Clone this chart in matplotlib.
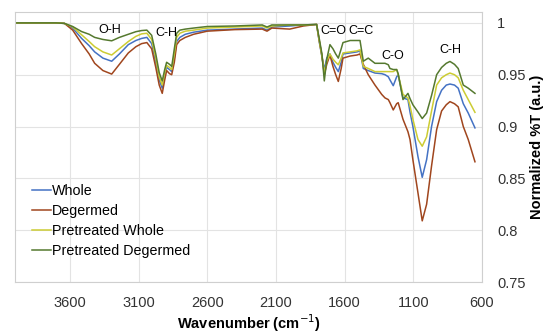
import matplotlib
matplotlib.use("Agg")
from matplotlib import pyplot as plt

plt.rcParams['font.family'] = ['Liberation Sans', 'DejaVu Sans']

# wavenumber grid (cm-1)
wavenumber = [4000, 3700, 3640, 3580, 3515, 3460, 3420, 3360, 3296, 3240,
              3175, 3120, 3078, 3040, 3005, 2975, 2950, 2928, 2910, 2896,
              2875, 2859, 2840, 2823, 2800, 2760, 2700, 2600, 2400, 2200,
              2165, 2130, 2000, 1900, 1804, 1785, 1765, 1748, 1730, 1707,
              1685, 1665, 1646, 1625, 1612, 1560, 1510, 1488, 1464, 1428,
              1379, 1330, 1306, 1282, 1270, 1246, 1221, 1210, 1175, 1139,
              1124, 1103, 1066, 1035, 1003, 967, 930, 894, 860, 833,
              800, 773, 736, 700, 651]

whole = [1.0, 1.0, 0.9995, 0.995, 0.985, 0.978, 0.972, 0.966, 0.963, 0.970,
         0.979, 0.983, 0.985, 0.986, 0.980, 0.962, 0.945, 0.937, 0.949, 0.957,
         0.955, 0.953, 0.966, 0.982, 0.986, 0.989, 0.991, 0.993, 0.994, 0.995,
         0.993, 0.996, 0.997, 0.998, 0.9985, 0.982, 0.967, 0.955, 0.966, 0.970,
         0.962, 0.957, 0.953, 0.962, 0.970, 0.971, 0.972, 0.973, 0.956, 0.954,
         0.9516, 0.951, 0.950, 0.948, 0.945, 0.9394, 0.948, 0.950, 0.9276, 0.926,
         0.914, 0.900, 0.871, 0.851, 0.868, 0.900, 0.924, 0.935, 0.940, 0.941,
         0.940, 0.937, 0.922, 0.913, 0.8987]

degermed = [1.0, 1.0, 0.9995, 0.993, 0.980, 0.970, 0.961, 0.954, 0.9506, 0.960,
            0.971, 0.977, 0.980, 0.981, 0.975, 0.957, 0.940, 0.932, 0.945, 0.954,
            0.951, 0.950, 0.962, 0.979, 0.983, 0.986, 0.989, 0.992, 0.9935, 0.994,
            0.992, 0.995, 0.994, 0.997, 0.9985, 0.983, 0.968, 0.950, 0.960, 0.969,
            0.958, 0.950, 0.9435, 0.956, 0.966, 0.968, 0.969, 0.970, 0.960, 0.950,
            0.940, 0.931, 0.9276, 0.926, 0.923, 0.916, 0.922, 0.923, 0.907, 0.895,
            0.8875, 0.868, 0.836, 0.809, 0.825, 0.862, 0.897, 0.915, 0.921, 0.924,
            0.922, 0.919, 0.900, 0.8875, 0.866]

pre_whole = [1.0, 1.0, 0.9995, 0.996, 0.9885, 0.982, 0.977, 0.972, 0.969, 0.975,
             0.982, 0.987, 0.9894, 0.990, 0.984, 0.966, 0.948, 0.940, 0.952, 0.959,
             0.957, 0.955, 0.970, 0.986, 0.990, 0.992, 0.993, 0.995, 0.996, 0.997,
             0.995, 0.997, 0.998, 0.998, 0.9985, 0.983, 0.968, 0.952, 0.963, 0.970,
             0.965, 0.962, 0.9596, 0.966, 0.971, 0.972, 0.973, 0.974, 0.958, 0.956,
             0.953, 0.953, 0.953, 0.953, 0.953, 0.953, 0.955, 0.950, 0.931, 0.9276,
             0.920, 0.907, 0.8875, 0.881, 0.890, 0.915, 0.940, 0.947, 0.950, 0.9516,
             0.950, 0.947, 0.935, 0.926, 0.9137]

pre_degermed = [1.0, 1.0, 0.9995, 0.9965, 0.9916, 0.989, 0.986, 0.984, 0.9827, 0.986,
                0.989, 0.9915, 0.9926, 0.993, 0.988, 0.970, 0.952, 0.944, 0.955, 0.962,
                0.960, 0.958, 0.975, 0.990, 0.993, 0.994, 0.995, 0.9965, 0.997, 0.998,
                0.996, 0.998, 0.998, 0.998, 0.9985, 0.985, 0.970, 0.944, 0.965, 0.979,
                0.975, 0.970, 0.966, 0.975, 0.981, 0.983, 0.983, 0.983, 0.963, 0.966,
                0.961, 0.961, 0.961, 0.9596, 0.956, 0.955, 0.955, 0.951, 0.926, 0.932,
                0.927, 0.921, 0.914, 0.9077, 0.913, 0.930, 0.950, 0.957, 0.961, 0.9628,
                0.960, 0.956, 0.940, 0.937, 0.932]

series_names = ['Whole', 'Degermed', 'Pretreated Whole', 'Pretreated Degermed']
series_colors = ['#4472C4', '#A0461E', '#CCCC33', '#55792F']

# band labels: text, wavenumber, value
bands = [('O-H', 3308, 0.9935), ('C-H', 2901, 0.9905), ('C=O', 1683, 0.9917),
         ('C=C', 1481, 0.9917), ('C-O', 1253, 0.9676), ('C-H', 828, 0.974)]

fig = plt.figure(figsize=(5.5, 3.36), dpi=100)
ax = fig.add_axes([0.0273, 0.1607, 0.849, 0.8036])

for vals, name, col in zip([whole, degermed, pre_whole, pre_degermed],
                           series_names, series_colors):
    ax.plot(wavenumber, vals, color=col, lw=1.1, label=name)

for txt, wn, v in bands:
    ax.text(wn, v, txt, ha='center', va='center', fontsize=9)

ax.set_xlim(4000, 600)
ax.set_ylim(0.75, 1.0105)
ax.set_xticks([3600, 3100, 2600, 2100, 1600, 1100, 600])
ax.set_yticks([0.75, 0.8, 0.85, 0.9, 0.95, 1.0])
ax.set_yticklabels(['0.75', '0.8', '0.85', '0.9', '0.95', '1'])
ax.yaxis.tick_right()
ax.yaxis.set_label_position('right')
ax.tick_params(length=0, labelsize=10.5, colors='#333333')
ax.tick_params(axis='x', pad=10)
ax.tick_params(axis='y', pad=11)
ax.grid(True, color='#e3e3e3', lw=0.8)
for s in ax.spines.values():
    s.set_color('#cfcfcf')
    s.set_linewidth(0.8)

ax.set_xlabel('Wavenumber (cm$^{-1}$)', fontsize=10.5, fontweight='bold', labelpad=2)
ax.set_ylabel('Normalized %T (a.u.)', fontsize=10.5, fontweight='bold', labelpad=3)

ax.legend(loc='upper left', bbox_to_anchor=(0.03, 0.375), frameon=False,
          fontsize=10.3, handlelength=1.33, handletextpad=0.1, labelspacing=0.44,
          borderaxespad=0, borderpad=0.2)

fig.savefig('out.png', dpi=100)
